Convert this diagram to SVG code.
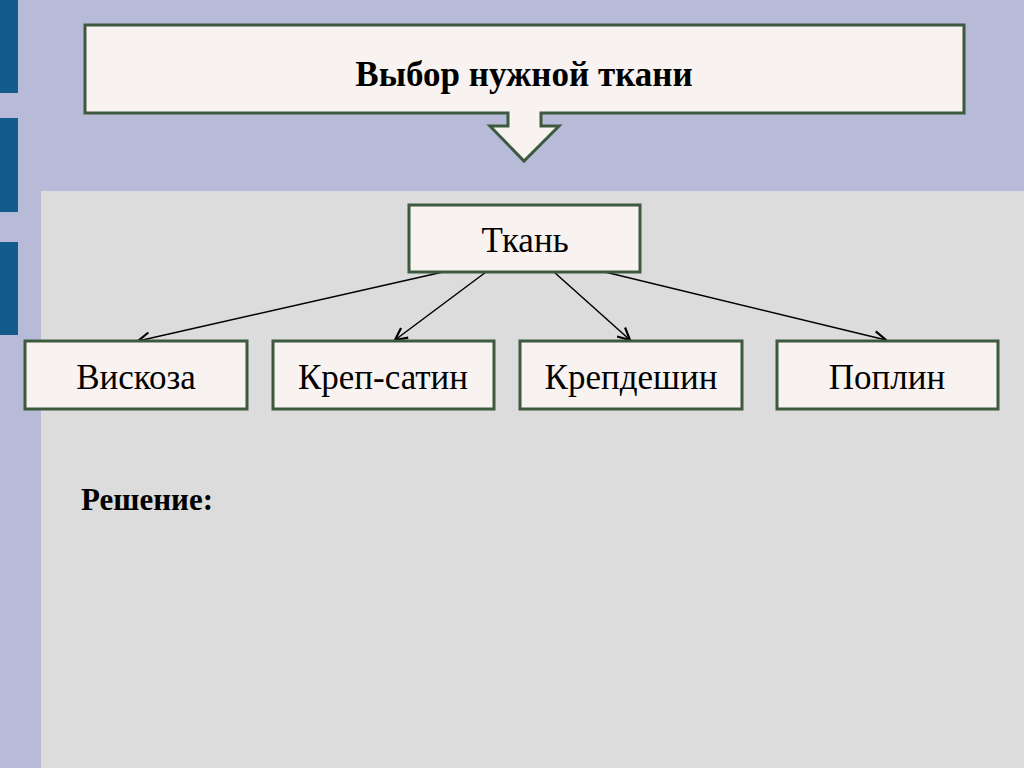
<svg xmlns="http://www.w3.org/2000/svg" width="1024" height="768" viewBox="0 0 1024 768">
<defs>
<style>
.box{fill:#F8F3F1;stroke:#3D5A3F;stroke-width:3}
.t{font-family:"Liberation Serif",serif;font-size:35px;fill:#000;text-anchor:middle}
.b{font-weight:bold}
.c{stroke:#000;stroke-width:1.5;fill:none;marker-end:url(#ah)}
.bar{fill:#135B8A}
</style>
<marker id="ah" viewBox="0 0 14 14" refX="13" refY="7" markerWidth="14" markerHeight="14" markerUnits="userSpaceOnUse" orient="auto">
<path d="M1,1 L13,7 L1,13" fill="none" stroke="#000" stroke-width="2.2"/>
</marker>
</defs>
<rect width="1024" height="768" fill="#B8BBD7"/>
<rect class="bar" x="0" y="0" width="18" height="93"/>
<rect class="bar" x="0" y="118" width="18" height="94"/>
<rect class="bar" x="0" y="242" width="18" height="93"/>
<rect x="41" y="191" width="983" height="577" fill="#DCDCDC"/>
<g id="title">
<path class="box" d="M85,25 H964 V113 H541 V126 H559 L524,161 L490,126 H508 V113 H85 Z"/>
<text class="t b" x="524" y="86">Выбор нужной ткани</text>
</g>
<g id="connectors">
<line class="c" x1="443" y1="272" x2="138" y2="341"/>
<line class="c" x1="486" y1="272" x2="395" y2="340"/>
<line class="c" x1="554" y1="272" x2="630" y2="340"/>
<line class="c" x1="605" y1="272" x2="886" y2="340"/>
</g>
<g id="tkan">
<rect class="box" x="409" y="205" width="231" height="67"/>
<text class="t" x="525" y="252">Ткань</text>
</g>
<g id="viskoza">
<rect class="box" x="25" y="341" width="222" height="68"/>
<text class="t" x="136" y="389">Вискоза</text>
</g>
<g id="krep-satin">
<rect class="box" x="273" y="341" width="221" height="68"/>
<text class="t" x="383" y="389">Креп-сатин</text>
</g>
<g id="krepdeshin">
<rect class="box" x="520" y="341" width="222" height="68"/>
<text class="t" x="631" y="389">Крепдешин</text>
</g>
<g id="poplin">
<rect class="box" x="777" y="341" width="221" height="68"/>
<text class="t" x="887" y="389">Поплин</text>
</g>
<text class="t b" x="81" y="510" style="text-anchor:start;font-size:31px">Решение:</text>
</svg>
